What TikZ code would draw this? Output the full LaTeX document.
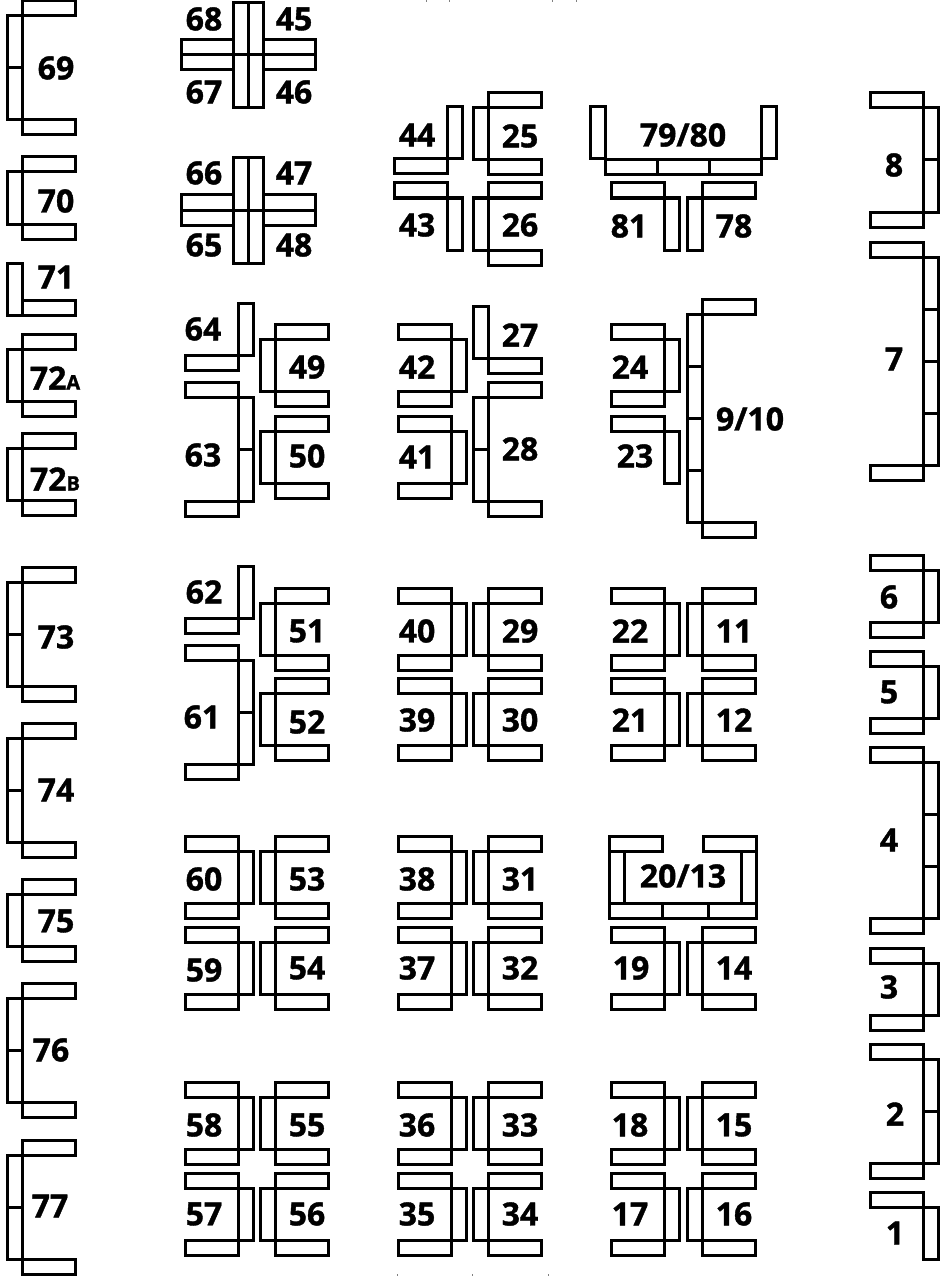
\documentclass[tikz,border=0pt]{standalone}
\usepackage{fontspec}
\setmainfont[BoldFeatures={FakeBold=1.2}]{Open Sans}
\tikzset{seat/.style={line width=3pt},
  num/.style={font=\fontsize{32}{36}\bfseries\selectfont,inner sep=0pt}}
\newcommand{\armH}[2]{\draw[seat] (#1,#2) rectangle ++(53,15);}
\newcommand{\backV}[3]{\draw[seat] (#1,#2) rectangle ++(15,{52*#3});
  \foreach \k in {1,...,#3} {\draw[seat] (#1,{#2+52*\k}) -- ++(15,0);}}
% back on the left: spine x, top y, number of back parts
\newcommand{\sofaL}[3]{\armH{#1}{#2}\backV{#1-15}{#2+15}{#3}\armH{#1}{#2+15+52*#3}}
% back on the right
\newcommand{\sofaR}[3]{\armH{#1-53}{#2}\backV{#1}{#2+15}{#3}\armH{#1-53}{#2+15+52*#3}}
\begin{document}
\begin{tikzpicture}[x=1pt,y=-1pt]
\useasboundingbox (0,0) rectangle (942,1276);
% left wall
\foreach \y/\n in {1/2,157/1,334/1,433/1,567/2,723/2,879/1,983/2,1140/2} {\sofaL{22}{\y}{\n}}
\backV{7}{263}{1}\armH{22}{300}
% crosses
\foreach \y in {3,158} {
  \draw[seat] (233,\y) rectangle ++(30,105);
  \draw[seat] (248,\y) -- ++(0,105);
  \draw[seat] (181,\y+37) rectangle ++(52,30);
  \draw[seat] (263,\y+37) rectangle ++(52,30);
  \draw[seat] (181,\y+52) -- ++(134,0);
}
% blocks with the back towards the aisle
\foreach \y in {836,927,1082,1173} {\sofaR{238}{\y}{1}\sofaL{275}{\y}{1}}
\foreach \y in {588,678} {\sofaL{275}{\y}{1}}
\foreach \y in {324,416} {\sofaL{275}{\y}{1}\sofaR{451}{\y}{1}}
\foreach \y in {588,678,836,927,1082,1173} {\sofaR{451}{\y}{1}\sofaL{488}{\y}{1}}
\foreach \y in {93,183} {\sofaL{488}{\y}{1}}
\foreach \y in {588,678,927,1082,1173} {\sofaR{664}{\y}{1}\sofaL{702}{\y}{1}}
\sofaR{238}{382}{2}\sofaR{238}{645}{2}
\sofaL{488}{382}{2}
\sofaR{664}{324}{1}
\sofaL{702}{299}{4}
% single corners
\backV{238}{303}{1}\armH{185}{355}
\backV{238}{566}{1}\armH{185}{618}
\backV{447}{107}{1}\armH{394}{159}
\armH{394}{183}\backV{447}{198}{1}
\backV{473}{306}{1}\armH{488}{358}
\armH{611}{416}\backV{664}{431}{1}
\armH{611}{183}\backV{664}{198}{1}
\backV{687}{198}{1}\armH{702}{183}
% 79/80
\backV{590}{107}{1}\backV{761}{107}{1}
\draw[seat] (605,160) rectangle (761,175);
\draw[seat] (657,160) -- ++(0,15) (709,160) -- ++(0,15);
% 20/13
\armH{609}{836}\armH{703}{836}
\backV{609}{851}{1}\backV{741}{851}{1}
\draw[seat] (609,903) rectangle (756,918);
\draw[seat] (662,903) -- ++(0,15) (708,903) -- ++(0,15);
% right wall
\foreach \y/\n in {93/2,242/4,555/1,651/1,747/3,948/1,1044/2} {\sofaR{923}{\y}{\n}}
\armH{870}{1192}\backV{923}{1207}{1}
% cut off marks at the edges
\foreach \x in {426,449,552,576} {\draw[line width=.6pt,gray] (\x,0) -- ++(0,2);}
\foreach \x in {397,472,548} {\draw[line width=.6pt,gray] (\x,1274) -- ++(0,2);}
% numbers
\foreach \t/\x/\y in {69/56/68,70/56/201,71/56/277,73/56/637,74/56/790,75/56/921,76/51/1050,77/50/1206,
  68/204/19,45/294/19,67/204/92,46/294/92,66/204/173,47/294/173,65/204/245,48/294/245,
  44/417/135,43/417/225,25/520/136,26/520/225,79\slash 80/683/135,81/629/226,78/734/226,
  42/417/367,41/417/457,27/520/335,28/520/449,24/630/367,23/635/456,9\slash 10/750/419,
  64/203/329,63/203/455,49/307/367,50/307/456,62/204/592,61/202/717,51/307/631,52/307/722,
  60/204/879,59/204/970,53/307/879,54/307/968,58/204/1125,57/204/1214,55/307/1125,56/307/1214,
  40/417/631,39/417/720,29/520/631,30/520/720,38/417/879,37/417/968,31/520/879,32/520/968,
  36/417/1125,35/417/1214,33/520/1125,34/520/1214,22/630/631,21/630/720,11/734/631,12/734/720,
  20\slash 13/683/876,19/631/968,14/734/968,18/630/1125,17/630/1214,15/734/1125,16/734/1214,
  8/894/165,7/894/359,6/889/597,5/889/692,4/889/840,3/889/987,2/895/1114,1/895/1233} {
  \node[num] (n\x-\y) at (\x,\y) {\t};
}
\node[num] (n72a) at (55,378) {72{\fontsize{20}{24}\bfseries\selectfont A}};
\node[num] (n72b) at (55,479) {72{\fontsize{20}{24}\bfseries\selectfont B}};
\end{tikzpicture}
\end{document}
